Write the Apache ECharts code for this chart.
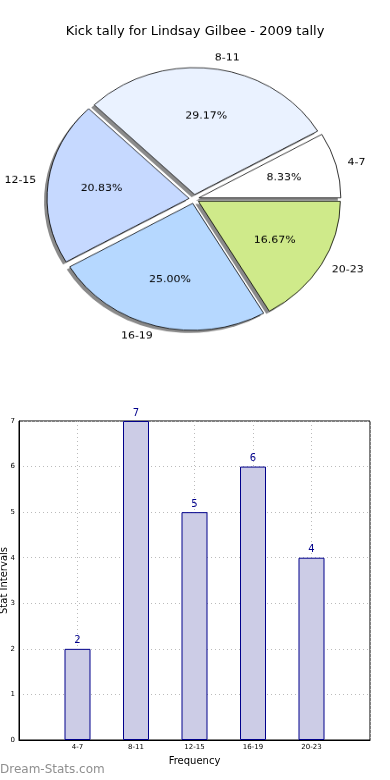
<!DOCTYPE html>
<html>
<head>
<meta charset="utf-8">
<script src="https://cdn.jsdelivr.net/npm/echarts@6/dist/echarts.min.js"></script>
<style>
html,body{margin:0;padding:0;background:#fff;}
#wrap{position:relative;width:390px;height:780px;}
#c{position:absolute;left:0;top:0;width:390px;height:780px;}
#p{position:absolute;left:0;top:0;width:390px;height:400px;transform:scaleY(0.894);transform-origin:0 199px;}
</style>
</head>
<body>
<div id="wrap"><div id="c"></div><div id="p"></div></div>
<script>
const title = 'Kick tally for Lindsay Gilbee - 2009 tally';
const categories = ['4-7', '8-11', '12-15', '16-19', '20-23'];
const values = [2, 7, 5, 6, 4];
const sliceColors = ['#ffffff', '#eaf2ff', '#c6d9ff', '#b6d8ff', '#cfea8a'];
const yTicks = [0, 1, 2, 3, 4, 5, 6, 7];
const xName = 'Frequency';
const yName = 'Stat Intervals';
const watermark = 'Dream-Stats.com';

const total = values.reduce((a, b) => a + b, 0);
const font = 'DejaVu Sans';
const pieCenter = [194, 199];
const shadowCenter = [191, 202];
const R = 142;

const pieData = categories.map((c, i) => ({
  name: c, value: values[i], selected: true,
  itemStyle: { color: sliceColors[i] }
}));
const plainData = categories.map((c, i) => ({
  name: c, value: values[i], selected: true
}));

const chart = echarts.init(document.getElementById('c'), null, { renderer: 'canvas' });
chart.setOption({
  animation: false,
  backgroundColor: '#fff',
  textStyle: { fontFamily: font },
  title: {
    text: title, left: 'center', top: 20,
    textStyle: { fontFamily: font, fontSize: 13, fontWeight: 'normal', color: '#000' }
  },
  graphic: [{
    type: 'text', left: 0, top: 764,
    style: { text: watermark, fill: '#8f8f8f', font: '12px "DejaVu Sans"' }
  }],
  grid: { left: 19, right: 20, top: 421, bottom: 40, outerBoundsMode: 'none', containLabel: false,
    show: true, borderColor: '#000', borderWidth: 1, backgroundColor: 'transparent' },
  xAxis: {
    type: 'category', boundaryGap: false,
    data: [''].concat(categories, ['']),
    name: xName, nameLocation: 'middle', nameGap: 16, nameMoveOverlap: false,
    nameTextStyle: { fontFamily: font, fontSize: 10, color: '#000' },
    axisLine: { lineStyle: { color: '#000' } },
    axisTick: { show: false },
    axisLabel: { fontFamily: font, fontSize: 7, color: '#000', margin: 4, interval: 0 },
    splitLine: { show: true, lineStyle: { color: '#bbb', type: [1, 3] } }
  },
  yAxis: {
    type: 'value', min: yTicks[0], max: yTicks[yTicks.length - 1], interval: 1,
    name: yName, nameLocation: 'middle', nameGap: 9.5, nameRotate: 90, nameMoveOverlap: false,
    nameTextStyle: { fontFamily: font, fontSize: 10, color: '#000' },
    axisLine: { show: true, lineStyle: { color: '#000' } },
    axisTick: { show: false },
    axisLabel: { fontFamily: font, fontSize: 7, color: '#000', margin: 4 },
    splitLine: { show: true, lineStyle: { color: '#bbb', type: [1, 3] } }
  },
  series: [
    {
      type: 'bar',
      data: [null].concat(values, [null]),
      barWidth: 26,
      itemStyle: { color: '#ccccE6', borderColor: '#00008b', borderWidth: 1 },
      label: { show: true, position: 'top', fontFamily: font, fontSize: 10, color: '#00008b', distance: 3 },
      silent: true
    }
  ]
});

const pie = echarts.init(document.getElementById('p'), null, { renderer: 'canvas' });
pie.setOption({
  animation: false,
  textStyle: { fontFamily: font },
  series: [
    {
      type: 'pie', center: shadowCenter, radius: R,
      startAngle: 0, clockwise: false,
      selectedMode: 'multiple', selectedOffset: 5,
      data: plainData,
      itemStyle: { color: '#8a8a8a', borderWidth: 0 },
      label: { show: false }, labelLine: { show: false },
      emphasis: { disabled: true },
      silent: true
    },
    {
      type: 'pie', center: pieCenter, radius: R,
      startAngle: 0, clockwise: false,
      selectedMode: 'multiple', selectedOffset: 5,
      data: pieData,
      itemStyle: { borderColor: '#000', borderWidth: 0.8 },
      label: { show: true, position: 'outside', fontFamily: font, fontSize: 11, color: '#000',
        distanceToLabelLine: 0, overflow: 'none' },
      labelLine: { show: false, length: 12, length2: 0 },
      emphasis: { disabled: true },
      silent: true
    },
    {
      type: 'pie', center: pieCenter, radius: [R * 0.2, R],
      startAngle: 0, clockwise: false,
      selectedMode: 'multiple', selectedOffset: 5,
      data: plainData,
      itemStyle: { color: 'rgba(0,0,0,0)', borderWidth: 0, borderColor: 'rgba(0,0,0,0)' },
      label: {
        show: true, position: 'inside', fontFamily: font, fontSize: 11, color: '#000',
        formatter: p => (p.value / total * 100).toFixed(2) + '%'
      },
      labelLine: { show: false },
      emphasis: { disabled: true },
      silent: true
    }
  ]
});
</script>
</body>
</html>
